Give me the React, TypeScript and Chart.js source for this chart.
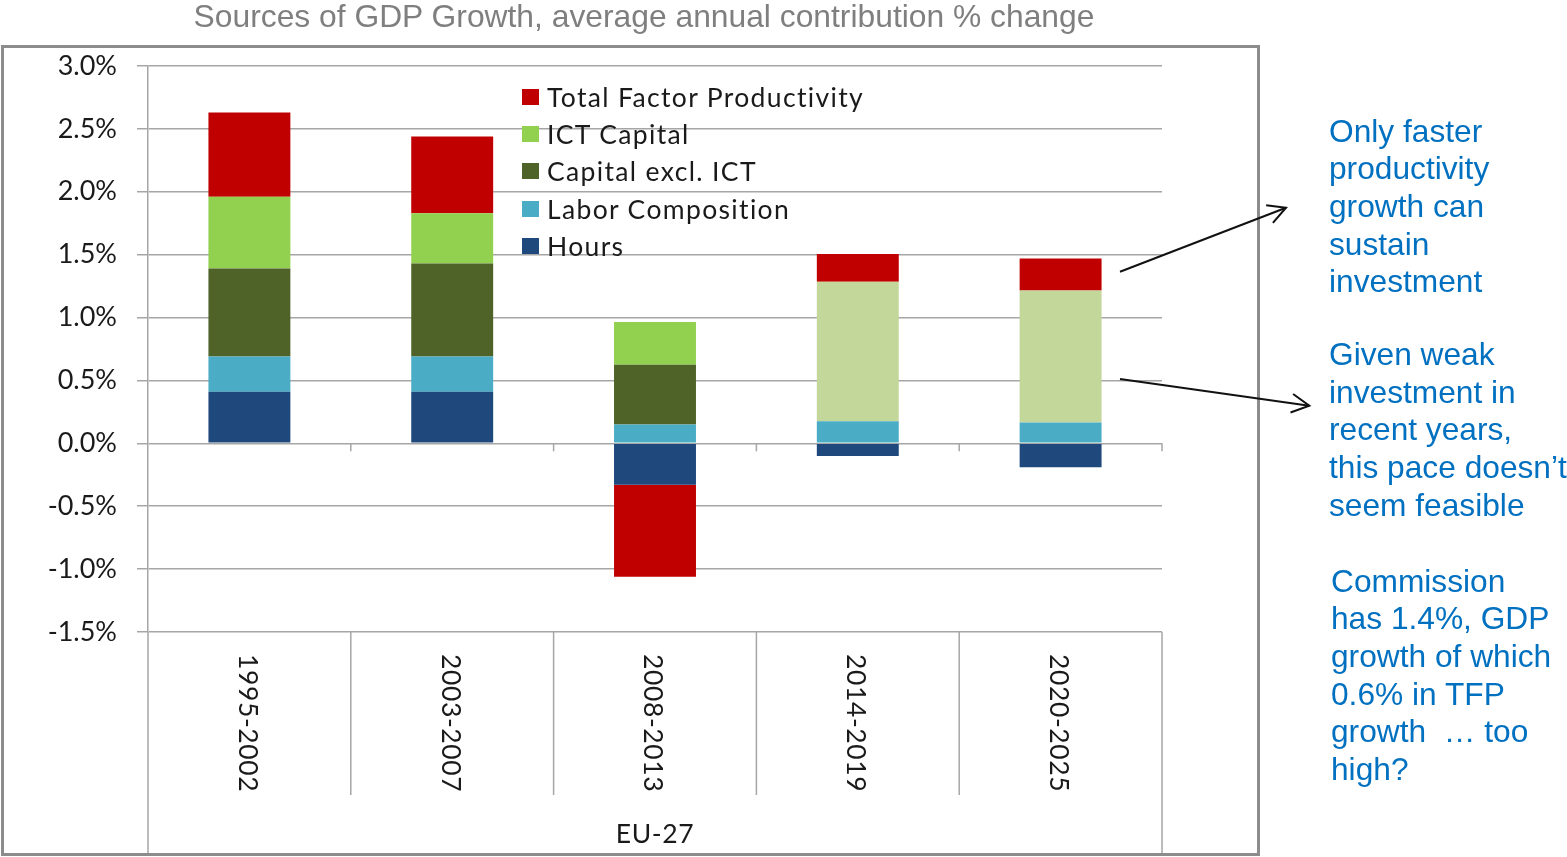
import React, { useEffect, useRef } from 'react';
import { Chart, registerables } from 'chart.js';

Chart.register(...registerables);

// ---- data ----
const categories = ['1995-2002', '2003-2007', '2008-2013', '2014-2019', '2020-2025'];
const groupLabel = 'EU-27';
const hours = [0.41, 0.41, -0.33, -0.1, -0.19];
const laborComposition = [0.28, 0.28, 0.15, 0.175, 0.165];
const capitalExclICT = [0.7, 0.74, 0.475, null, null];
const capitalTotal = [null, null, null, 1.11, 1.05];
const ictCapital = [0.57, 0.4, 0.34, null, null];
const tfp = [0.67, 0.61, -0.73, 0.22, 0.255];
const yMin = -1.5;
const yMax = 3.0;
const yStep = 0.5;

const titleText = 'Sources of GDP Growth, average annual contribution % change';
const note1 = ['Only faster', 'productivity', 'growth can', 'sustain', 'investment'];
const note2 = ['Given weak', 'investment in', 'recent years,', 'this pace doesn\u2019t', 'seem feasible'];
const note3 = ['Commission', 'has 1.4%, GDP', 'growth of which', '0.6% in TFP', 'growth  \u2026 too', 'high?'];

// ---- styles ----
const W = 1567;
const H = 857;
const GRID = '#a6a6a6';
const FONT = 'Lato, "DejaVu Sans", sans-serif';
const ARIAL = '"Liberation Sans", Arial, sans-serif';
const C_TFP = '#c00000';
const C_ICT = '#92d050';
const C_CAPX = '#4f6228';
const C_CAPT = '#c4d79b';
const C_LAB = '#4bacc6';
const C_HRS = '#1f497d';

const legendItems = [
  { label: 'Total Factor Productivity', color: C_TFP },
  { label: 'ICT Capital', color: C_ICT },
  { label: 'Capital excl. ICT', color: C_CAPX },
  { label: 'Labor Composition', color: C_LAB },
  { label: 'Hours', color: C_HRS },
];

function line(ctx: CanvasRenderingContext2D, x1: number, y1: number, x2: number, y2: number) {
  ctx.beginPath();
  ctx.moveTo(x1, y1);
  ctx.lineTo(x2, y2);
  ctx.stroke();
}

function arrow(ctx: CanvasRenderingContext2D, x1: number, y1: number, x2: number, y2: number) {
  line(ctx, x1, y1, x2, y2);
  const a = Math.atan2(y1 - y2, x1 - x2);
  const len = 20;
  const da = (28 * Math.PI) / 180;
  ctx.beginPath();
  ctx.moveTo(x2 + len * Math.cos(a + da), y2 + len * Math.sin(a + da));
  ctx.lineTo(x2, y2);
  ctx.lineTo(x2 + len * Math.cos(a - da), y2 + len * Math.sin(a - da));
  ctx.stroke();
}

const overlay = {
  id: 'overlay',
  afterDraw(chart: any) {
    const { ctx, chartArea } = chart;
    const xs = chart.scales.x;
    const ys = chart.scales.y;
    const centers = categories.map((_, i) => xs.getPixelForValue(i));
    const half = (centers[1] - centers[0]) / 2;
    const bounds = [centers[0] - half, ...centers.map((c) => c + half)];
    const n = categories.length;
    const y0 = ys.getPixelForValue(0);
    const bottom = chartArea.bottom;
    ctx.save();
    ctx.strokeStyle = GRID;
    ctx.lineWidth = 1.5;
    for (let i = 1; i <= n; i++) line(ctx, bounds[i], y0, bounds[i], y0 + 8);
    for (let i = 1; i < n; i++) line(ctx, bounds[i], bottom, bounds[i], 795);
    line(ctx, bounds[0], bottom, bounds[0], 855);
    line(ctx, bounds[n], bottom, bounds[n], 855);

    // category labels, rotated clockwise
    ctx.fillStyle = '#1a1a1a';
    ctx.font = `26.5px ${FONT}`;
    try {
      (ctx as any).letterSpacing = '0.6px';
    } catch (e) {}
    ctx.textBaseline = 'middle';
    ctx.textAlign = 'left';
    categories.forEach((c, i) => {
      ctx.save();
      ctx.translate(centers[i] - 2, bottom + 22);
      ctx.rotate(Math.PI / 2);
      ctx.fillText(c, 0, 0);
      ctx.restore();
    });
    ctx.textBaseline = 'alphabetic';
    ctx.textAlign = 'center';
    ctx.fillText(groupLabel, (bounds[0] + bounds[n]) / 2, 843);
    try {
      (ctx as any).letterSpacing = '0px';
    } catch (e) {}

    // outer frame
    ctx.strokeStyle = '#8c8c8c';
    ctx.lineWidth = 3;
    ctx.strokeRect(2.5, 46.5, 1256, 808);

    // arrows
    ctx.strokeStyle = '#111111';
    ctx.lineWidth = 2;
    arrow(ctx, 1120, 271.7, 1286, 207.7);
    arrow(ctx, 1120, 379, 1309.3, 405.7);
    ctx.restore();
  },
};

function Note({ lines, left, top }: { lines: string[]; left: number; top: number }) {
  return (
    <div
      style={{
        position: 'absolute',
        left,
        top,
        color: '#0070c0',
        fontFamily: ARIAL,
        fontSize: '31.7px',
        lineHeight: '37.7px',
        whiteSpace: 'pre',
      }}
    >
      {lines.map((l, i) => (
        <div key={i}>{l}</div>
      ))}
    </div>
  );
}

export default function App() {
  const ref = useRef<HTMLCanvasElement>(null);

  useEffect(() => {
    if (!ref.current) return;
    const chart = new Chart(ref.current, {
      type: 'bar',
      data: {
        labels: categories,
        datasets: [
          { label: 'Hours', data: hours, backgroundColor: C_HRS },
          { label: 'Labor Composition', data: laborComposition, backgroundColor: C_LAB },
          { label: 'Capital excl. ICT', data: capitalExclICT as any, backgroundColor: C_CAPX },
          { label: 'Capital', data: capitalTotal as any, backgroundColor: C_CAPT },
          { label: 'ICT Capital', data: ictCapital as any, backgroundColor: C_ICT },
          { label: 'Total Factor Productivity', data: tfp, backgroundColor: C_TFP },
        ],
      },
      options: {
        animation: false,
        responsive: false,
        devicePixelRatio: 1,
        layout: { padding: { left: 0, top: 66, right: W - 1162, bottom: H - 632 } },
        datasets: { bar: { categoryPercentage: 1, barPercentage: 0.404 } } as any,
        plugins: {
          legend: { display: false },
          tooltip: { enabled: false },
          title: { display: false },
        },
        scales: {
          x: { display: false, stacked: true, offset: true },
          y: {
            stacked: true,
            min: yMin,
            max: yMax,
            afterFit: (s: any) => {
              s.width = 148;
            },
            ticks: {
              stepSize: yStep,
              padding: 20,
              color: '#1a1a1a',
              font: { family: FONT, size: 27 },
              callback: (v: any) => Number(v).toFixed(1) + '%',
            },
            grid: { color: GRID, lineWidth: 1.5, tickLength: 11, drawTicks: true },
            border: { color: GRID, width: 1.5 },
          },
        },
      },
      plugins: [overlay],
    });
    return () => chart.destroy();
  }, []);

  return (
    <div
      style={{
        position: 'fixed',
        left: 0,
        top: 0,
        width: W,
        height: H,
        overflow: 'hidden',
        background: '#ffffff',
      }}
    >
      <canvas ref={ref} width={W} height={H} style={{ position: 'absolute', left: 0, top: 0 }} />
      <div
        style={{
          position: 'absolute',
          left: 0,
          width: 1288,
          top: 1,
          textAlign: 'center',
          color: '#7f7f7f',
          fontFamily: ARIAL,
          fontSize: '31.8px',
          lineHeight: '31.8px',
          whiteSpace: 'nowrap',
        }}
      >
        {titleText}
      </div>
      <div style={{ position: 'absolute', left: 522, top: 78 }}>
        {legendItems.map((it) => (
          <div
            key={it.label}
            style={{ display: 'flex', alignItems: 'center', height: 37.3, whiteSpace: 'nowrap' }}
          >
            <span
              style={{ display: 'inline-block', width: 17, height: 16, background: it.color, marginRight: 8 }}
            />
            <span
              style={{
                fontFamily: FONT,
                fontSize: '26.5px',
                color: '#1a1a1a',
                lineHeight: '30px',
                letterSpacing: '1.35px',
              }}
            >
              {it.label}
            </span>
          </div>
        ))}
      </div>
      <Note lines={note1} left={1329} top={112.5} />
      <Note lines={note2} left={1329} top={336} />
      <Note lines={note3} left={1331} top={562.5} />
    </div>
  );
}
